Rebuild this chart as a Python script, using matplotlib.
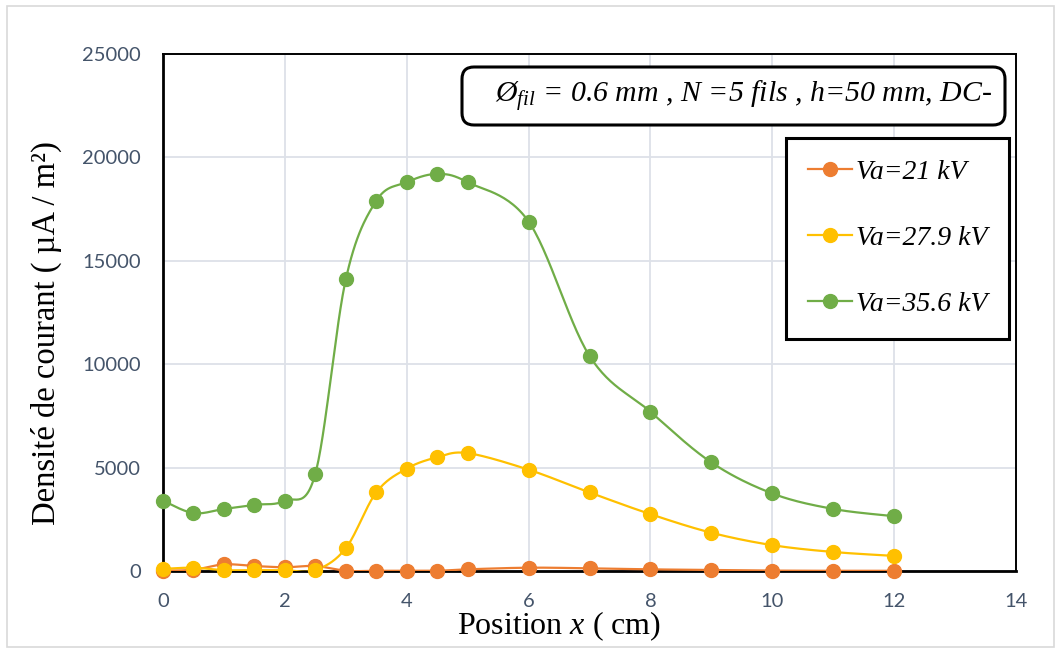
import numpy as np
import matplotlib
matplotlib.use("Agg")
import matplotlib.pyplot as plt
from matplotlib.lines import Line2D
from matplotlib.patches import FancyBboxPatch, Rectangle
from matplotlib.transforms import IdentityTransform

plt.rcParams['mathtext.fontset'] = 'custom'
plt.rcParams['mathtext.rm'] = 'Liberation Serif'
plt.rcParams['mathtext.it'] = 'Liberation Serif:italic'

# données
position = [0, 0.5, 1, 1.5, 2, 2.5, 3, 3.5, 4, 4.5, 5, 6, 7, 8, 9, 10, 11, 12]
va_21 = [20, 60, 320, 240, 180, 240, 10, 10, 10, 10, 80, 160, 130, 80, 50, 20, 10, 10]
va_27_9 = [100, 160, 40, 40, 40, 40, 1100, 3800, 4950, 5500, 5700, 4900, 3800, 2750, 1850, 1250, 920, 730]
va_35_6 = [3400, 2800, 3000, 3200, 3400, 4700, 14100, 17900, 18800, 19200, 18800, 16900, 10400, 7700, 5250, 3750, 3000, 2650]
labels = ["Va=21 kV", "Va=27.9 kV", "Va=35.6 kV"]
colors = ["#ED7D31", "#FFC000", "#70AD47"]

W, H = 1061, 651
fig = plt.figure(figsize=(W / 100, H / 100), dpi=100)
ax = fig.add_axes([163 / W, 1 - 571 / H, 853 / W, 517 / H])

# courbe lissée façon Excel (Bezier / Catmull-Rom)
sx, sy = 853 / 14.0, 517 / 25000.0
def smooth(x, y, n=30):
    p = np.column_stack([np.array(x) * sx, np.array(y) * sy])
    p = np.vstack([p[0], p, p[-1]])
    out = []
    t = np.linspace(0, 1, n)[:, None]
    for i in range(1, len(p) - 2):
        p0, p1 = p[i], p[i + 1]
        c1 = p0 + (p[i + 1] - p[i - 1]) / 6.0
        c2 = p1 - (p[i + 2] - p[i]) / 6.0
        seg = (1 - t) ** 3 * p0 + 3 * (1 - t) ** 2 * t * c1 + 3 * (1 - t) * t ** 2 * c2 + t ** 3 * p1
        out.append(seg)
    out = np.vstack(out)
    return out[:, 0] / sx, out[:, 1] / sy

for ys, c in zip([va_21, va_27_9, va_35_6], colors):
    xs, yy = smooth(position, ys)
    ax.plot(xs, yy, color=c, lw=1.6, zorder=3)
    ax.plot(position, ys, 'o', color=c, ms=10, mec=c, zorder=4, clip_on=False)

ax.set_xlim(0, 14)
ax.set_ylim(0, 25000)
ax.set_xticks(range(0, 15, 2))
ax.set_yticks(range(0, 25001, 5000))
ax.grid(True, color="#DDE1E8", lw=1.3)
ax.set_axisbelow(True)
for s in ax.spines.values():
    s.set_color("black")
    s.set_linewidth(1.4)
ax.spines['left'].set_linewidth(2)
ax.spines['bottom'].set_linewidth(2)
ax.tick_params(length=0, labelsize=14.5, labelcolor="#44546A", pad=16)
for lab in ax.get_xticklabels() + ax.get_yticklabels():
    lab.set_fontfamily("Lato")

fig.text(559 / W, 1 - 626 / H, r"Position $\mathit{x}$ ( cm)", ha="center", va="center",
         fontsize=23, family="Liberation Serif")
fig.text(46 / W, 1 - 333 / H, "Densité de courant ( µA / m²)", ha="center", va="center",
         rotation=90, fontsize=23.5, family="Liberation Serif")

# cadre de l'annotation
box = FancyBboxPatch((462, H - 125), 543, 58, boxstyle="round,pad=0,rounding_size=12",
                     transform=IdentityTransform(), facecolor="white", edgecolor="black", lw=2.2)
fig.patches.append(box)
fig.text(744 / W, 1 - 97 / H, r"$Ø_{fil}$ = 0.6 mm , N =5 fils , h=50 mm, DC-", ha="center", va="center",
         fontsize=21.5, family="Liberation Serif", style="italic")

handles = [Line2D([], [], color=c, lw=1.6, marker='o', ms=10) for c in colors]
leg = fig.legend(handles, labels, loc="upper left", bbox_to_anchor=(786 / W, 1 - 138 / H),
                 prop={"family": "Liberation Serif", "style": "italic", "size": 20},
                 fancybox=False, edgecolor="black", framealpha=1, labelspacing=1.46,
                 handlelength=1.6, handletextpad=0.15, borderpad=0.78, borderaxespad=0)
leg.get_frame().set_linewidth(2.2)

# bordure du graphique
fig.patches.append(Rectangle((7, 4), W - 14, H - 10, transform=IdentityTransform(),
                             fill=False, edgecolor="#D9D9D9", lw=1.2))

fig.savefig("out.png", dpi=100)
